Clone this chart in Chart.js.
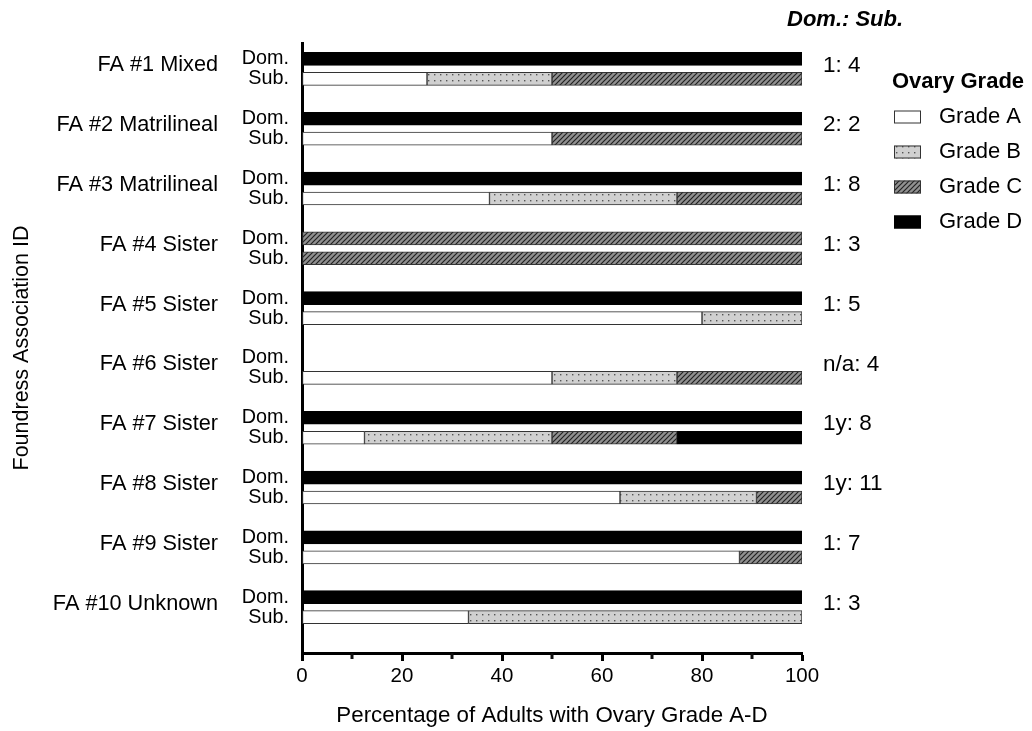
<!DOCTYPE html>
<html>
<head>
<meta charset="utf-8">
<script src="https://cdn.jsdelivr.net/npm/chart.js@4.4.1/dist/chart.umd.min.js"></script>
<style>
  html, body { margin: 0; padding: 0; background: #ffffff; }
  canvas { display: block; }
</style>
</head>
<body>
<canvas id="chart" width="1032" height="731"></canvas>
<script>
// Foundress associations and their dominant : subordinate counts
const associations = [
  'FA #1 Mixed', 'FA #2 Matrilineal', 'FA #3 Matrilineal', 'FA #4 Sister', 'FA #5 Sister',
  'FA #6 Sister', 'FA #7 Sister', 'FA #8 Sister', 'FA #9 Sister', 'FA #10 Unknown'
];
const dominanceRatios = ['1: 4', '2: 2', '1: 8', '1: 3', '1: 5', 'n/a: 4', '1y: 8', '1y: 11', '1: 7', '1: 3'];
const rowLabels = ['Dom.', 'Sub.'];
const gradeNames = ['Grade A', 'Grade B', 'Grade C', 'Grade D'];

// Percentage of adults in each ovary grade, dominant rows
const domGradeA = [0, 0, 0, 0, 0, 0, 0, 0, 0, 0];
const domGradeB = [0, 0, 0, 0, 0, 0, 0, 0, 0, 0];
const domGradeC = [0, 0, 0, 100, 0, 0, 0, 0, 0, 0];
const domGradeD = [100, 100, 100, 0, 100, 0, 100, 100, 100, 100];

// Percentage of adults in each ovary grade, subordinate rows
const subGradeA = [25, 50, 37.5, 0, 80, 50, 12.5, 63.6, 87.5, 33.3];
const subGradeB = [25, 0, 37.5, 0, 20, 25, 37.5, 27.3, 0, 66.7];
const subGradeC = [50, 50, 25, 100, 0, 25, 25, 9.1, 12.5, 0];
const subGradeD = [0, 0, 0, 0, 0, 0, 25, 0, 0, 0];

const xTickValues = [0, 20, 40, 60, 80, 100];

const FONT = '"Liberation Sans", Arial, Helvetica, sans-serif';
Chart.defaults.font.family = FONT;
Chart.defaults.color = '#000';

// Each association takes three row slots: Dom., Sub., and a gap
const SLOTS = 3;
const rowValue = (g, r) => g * SLOTS + r;
const rowValues = associations.flatMap((_, g) => [rowValue(g, 0), rowValue(g, 1)]);

function makePattern(kind) {
  const c = document.createElement('canvas');
  const ctx = c.getContext('2d');
  if (kind === 'dots') {
    c.width = 6; c.height = 6;
    ctx.fillStyle = '#d0d0d0';
    ctx.fillRect(0, 0, 6, 6);
    ctx.fillStyle = '#555';
    ctx.fillRect(2, 2, 1.4, 1.4);
  } else {
    c.width = 5; c.height = 5;
    ctx.fillStyle = '#909090';
    ctx.fillRect(0, 0, 5, 5);
    ctx.strokeStyle = '#222';
    ctx.lineWidth = 1.2;
    ctx.beginPath();
    ctx.moveTo(-1, 6); ctx.lineTo(6, -1);
    ctx.moveTo(-1, 1); ctx.lineTo(1, -1);
    ctx.moveTo(4, 6); ctx.lineTo(6, 4);
    ctx.stroke();
  }
  return ctx.createPattern(c, 'repeat');
}

const fills = ['#ffffff', makePattern('dots'), makePattern('hatch'), '#000000'];
const borders = ['#333333', '#333333', '#333333', '#000000'];
const gradeSeries = [
  [domGradeA, subGradeA],
  [domGradeB, subGradeB],
  [domGradeC, subGradeC],
  [domGradeD, subGradeD]
];

const datasets = gradeNames.map((name, i) => ({
  label: name,
  data: associations.flatMap((_, g) => [
    { x: gradeSeries[i][0][g], y: rowValue(g, 0) },
    { x: gradeSeries[i][1][g], y: rowValue(g, 1) }
  ]).filter(p => p.x > 0),
  backgroundColor: fills[i],
  borderColor: borders[i],
  borderWidth: 1,
  borderSkipped: false,
  barThickness: 13
}));

// Group names, dominance ratios, minor ticks and the legend
const annotations = {
  id: 'annotations',
  afterDraw(chart) {
    const { ctx, chartArea, scales } = chart;
    const ys = scales.y, xs = scales.x;
    ctx.save();

    // minor ticks halfway between labelled ticks
    ctx.strokeStyle = '#111';
    ctx.lineWidth = 3;
    for (let i = 0; i < xTickValues.length - 1; i++) {
      const px = Math.round(xs.getPixelForValue((xTickValues[i] + xTickValues[i + 1]) / 2));
      ctx.beginPath();
      ctx.moveTo(px, chartArea.bottom);
      ctx.lineTo(px, chartArea.bottom + 6);
      ctx.stroke();
    }

    ctx.fillStyle = '#000';
    ctx.textBaseline = 'middle';
    associations.forEach((name, g) => {
      const dom = ys.getPixelForValue(rowValue(g, 0));
      const sub = ys.getPixelForValue(rowValue(g, 1));
      const y = dom + (sub - dom) * 0.32;
      ctx.font = '21.7px ' + FONT;
      ctx.textAlign = 'right';
      ctx.fillText(name, chartArea.left - 84, y);
      ctx.font = '22.5px ' + FONT;
      ctx.textAlign = 'left';
      ctx.fillText(dominanceRatios[g], chartArea.right + 21, y);
    });

    ctx.font = 'italic bold 22px ' + FONT;
    ctx.textAlign = 'left';
    ctx.fillText('Dom.: Sub.', chartArea.right - 15, 20);

    // legend
    const lx = chartArea.right + 91;
    ctx.font = 'bold 22px ' + FONT;
    ctx.fillText('Ovary Grade', lx - 1, 82);
    ctx.font = '22px ' + FONT;
    gradeNames.forEach((name, i) => {
      const cy = 117 + i * 35;
      ctx.fillStyle = fills[i];
      ctx.fillRect(lx + 1, cy - 6.5, 27, 13);
      ctx.strokeStyle = borders[i];
      ctx.lineWidth = 1;
      ctx.strokeRect(lx + 1.5, cy - 6, 26, 12);
      ctx.fillStyle = '#000';
      ctx.fillText(name, lx + 46, cy);
    });
    ctx.restore();
  }
};

new Chart(document.getElementById('chart'), {
  type: 'bar',
  data: { datasets },
  plugins: [annotations],
  options: {
    responsive: false,
    animation: false,
    indexAxis: 'y',
    layout: { padding: { left: 0, right: 230, top: 43, bottom: 0 } },
    plugins: { legend: { display: false }, tooltip: { enabled: false } },
    scales: {
      x: {
        type: 'linear',
        stacked: true,
        min: 0,
        max: 100,
        afterBuildTicks: s => { s.ticks = xTickValues.map(v => ({ value: v })); },
        ticks: { color: '#000', font: { size: 20.5 }, padding: 3, maxRotation: 0 },
        grid: { display: true, drawOnChartArea: false, drawTicks: true, tickLength: 8, tickWidth: 3, tickColor: '#000' },
        border: { display: true, width: 3, color: '#000' },
        title: {
          display: true,
          text: 'Percentage of Adults with Ovary Grade A-D',
          color: '#000',
          font: { size: 22.3 },
          padding: { top: 0, bottom: 2 }
        },
        afterFit: s => { s.height = 78; }
      },
      y: {
        type: 'linear',
        stacked: true,
        reverse: true,
        offset: false,
        min: -0.8,
        max: 29.8,
        afterBuildTicks: s => { s.ticks = rowValues.map(v => ({ value: v })); },
        ticks: {
          autoSkip: false,
          color: '#000',
          font: { size: 19.8 },
          padding: 13,
          callback: v => rowLabels[Math.round(v) % SLOTS]
        },
        grid: { display: false, drawTicks: false },
        border: { display: true, width: 3, color: '#000' },
        title: {
          display: true,
          text: 'Foundress Association ID',
          color: '#000',
          font: { size: 21.5 },
          padding: { top: 9, bottom: 0 }
        },
        afterFit: s => { s.width = 302; }
      }
    }
  }
});
</script>
</body>
</html>
